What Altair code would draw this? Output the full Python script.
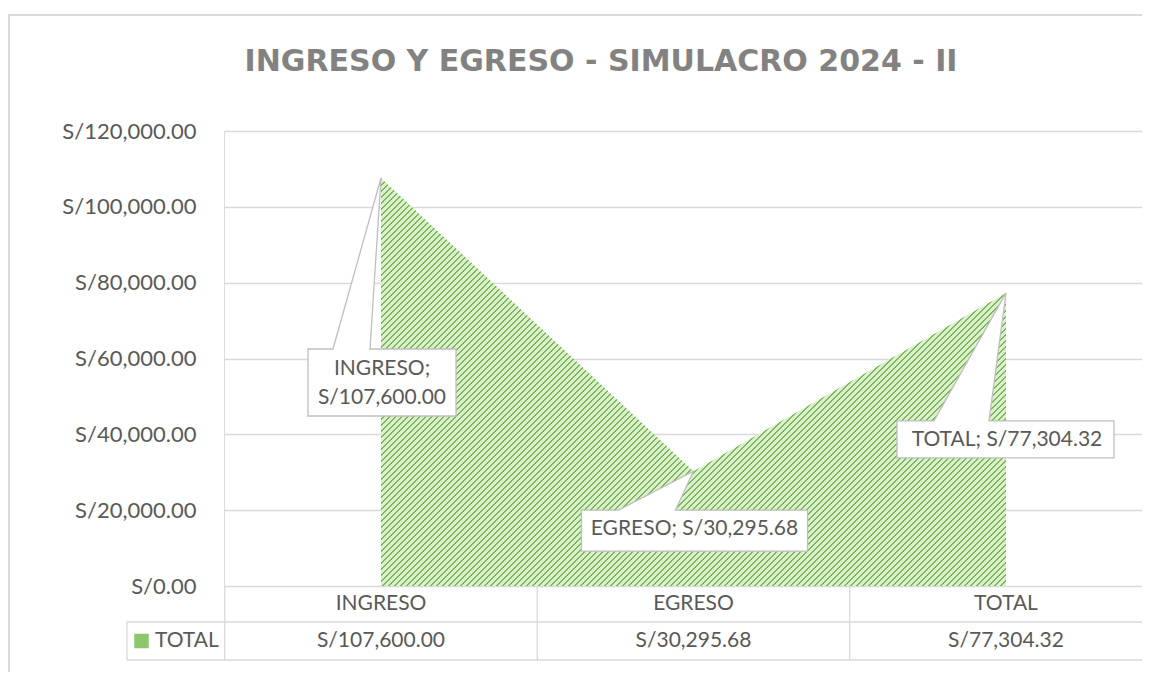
import altair as alt
import pandas as pd

# ---------------- data ----------------
CATEGORIES = ["INGRESO", "EGRESO", "TOTAL"]
VALUES = [107600.00, 30295.68, 77304.32]
SERIES_NAME = "TOTAL"
Y_TICKS = [0, 20000, 40000, 60000, 80000, 100000, 120000]
Y_MAX = 120000
TITLE = "INGRESO Y EGRESO - SIMULACRO 2024 - II"

df = pd.DataFrame({"cat": CATEGORIES, "val": VALUES})
legend_df = pd.DataFrame({"name": [SERIES_NAME]})
title_df = pd.DataFrame({"t": [TITLE]})

# ---------------- layout / style ----------------
W, H = 918, 455
PAD = {"left": 216, "top": 123, "right": 0, "bottom": 86}
STEP = 312.5                      # category width of the data table
FIRST = 157                       # first category centre from plot left
N = len(CATEGORIES)
pt_padding = (W / STEP - (N - 1)) / 2
pt_align = FIRST / (W - STEP * (N - 1))

FONT = "Lato"
TXT = "#595959"
GRID = "#d9d9d9"
FS = 21

# hatch ("wide upward diagonal") emulated by a striped linear gradient
bw = STEP * (N - 1)
bh = H * max(VALUES) / Y_MAX
a = (bw + bh) / (bw + bh * bh / bw)
gx2, gy2 = a, a * bh / bw
period = 6.0 / (bw + bh)          # 6 px horizontal stripe period
dark_frac = 0.34
dark, light = "#7cba59", "#dcefcf"
stops = []
o = 0.0
while o < 1.0:
    p1 = min(o + dark_frac * period, 1.0)
    p2 = min(o + period, 1.0)
    stops += [
        alt.GradientStop(color=dark, offset=o),
        alt.GradientStop(color=dark, offset=p1),
        alt.GradientStop(color=light, offset=p1),
        alt.GradientStop(color=light, offset=p2),
    ]
    o += period
hatch = alt.LinearGradient(gradient="linear", stops=stops, x1=0, y1=0, x2=gx2, y2=gy2)

x_enc = alt.X("cat:N", sort=CATEGORIES, axis=None,
              scale=alt.Scale(type="point", padding=pt_padding, align=pt_align))
y_scale = alt.Scale(domain=[0, Y_MAX], nice=False, zero=True)
y_axis = alt.Axis(values=Y_TICKS, labelExpr="'S/' + format(datum.value, ',.2f')",
                  labelFont=FONT, labelFontSize=22, labelColor=TXT, labelPadding=28,
                  ticks=False, domain=False, grid=True, gridColor=GRID, gridWidth=1.3,
                  title=None)

base = alt.Chart(df)

area = base.mark_area(fill=hatch, line=False, interpolate="linear").encode(
    x=x_enc,
    y=alt.Y("val:Q", scale=y_scale, axis=y_axis),
)

# callouts (shape relative to the data point, in pixels: size=4 -> scale 1)
CALLOUTS = {
    "INGRESO": dict(path="M0,0L-11,171L75,171L75,238L-73,238L-73,171L-48,171Z",
                    dx=1, dy=191, sep=";\n"),
    "EGRESO": dict(path="M0,0L-18,39L114,39L114,80L-112,80L-112,39L-75,39Z",
                   dx=1, dy=58, sep="; "),
    "TOTAL": dict(path="M0,0L-17,128L108,128L108,165L-109,165L-109,128L-72,128Z",
                  dx=1, dy=147, sep="; "),
}
callout_layers = []
for cat, c in CALLOUTS.items():
    sub = base.transform_filter(alt.datum.cat == cat)
    box = sub.mark_point(shape=c["path"], size=4, filled=True, fill="white",
                         stroke="#bfbfbf", strokeWidth=1.3, opacity=1).encode(
        x=alt.X("cat:N", sort=CATEGORIES), y=alt.Y("val:Q"))
    sep = c["sep"].replace("\n", "\\n")
    lbl = sub.transform_calculate(
        lab=f"datum.cat + '{sep}' + 'S/' + format(datum.val, ',.2f')"
    ).mark_text(dx=c["dx"], dy=c["dy"], font=FONT, fontSize=FS, color=TXT,
                align="center", baseline="middle", lineBreak="\n", lineHeight=29).encode(
        x=alt.X("cat:N", sort=CATEGORIES), y=alt.Y("val:Q"), text="lab:N")
    callout_layers += [box, lbl]

# data table below the plot
ROW1_Y, ROW2_Y = 473, 510
LINE1_Y, LINE2_Y = 491, 529
LEFT_X = -97
tbl_cat = base.mark_text(font=FONT, fontSize=FS, color=TXT, baseline="middle").encode(
    x=alt.X("cat:N", sort=CATEGORIES), y=alt.value(ROW1_Y), text="cat:N")
tbl_val = base.transform_calculate(
    lab="'S/' + format(datum.val, ',.2f')"
).mark_text(font=FONT, fontSize=FS, color=TXT, baseline="middle").encode(
    x=alt.X("cat:N", sort=CATEGORIES), y=alt.value(ROW2_Y), text="lab:N")
tbl_vlines = base.mark_rule(color=GRID, strokeWidth=1.3, xOffset=-STEP / 2).encode(
    x=alt.X("cat:N", sort=CATEGORIES), y=alt.value(H), y2=alt.value(LINE2_Y))
tbl_h1 = alt.Chart(legend_df).mark_rule(color=GRID, strokeWidth=1.3).encode(
    x=alt.value(LEFT_X), x2=alt.value(W), y=alt.value(LINE1_Y))
tbl_h2 = alt.Chart(legend_df).mark_rule(color=GRID, strokeWidth=1.3).encode(
    x=alt.value(LEFT_X), x2=alt.value(W), y=alt.value(LINE2_Y))
tbl_left = alt.Chart(legend_df).mark_rule(color=GRID, strokeWidth=1.3).encode(
    x=alt.value(LEFT_X), y=alt.value(LINE1_Y), y2=alt.value(LINE2_Y))
leg_key = alt.Chart(legend_df).mark_point(shape="square", size=210, filled=True,
                                          color="#8ec66c", opacity=1).encode(
    x=alt.value(-82.5), y=alt.value(ROW2_Y))
leg_txt = alt.Chart(legend_df).mark_text(font=FONT, fontSize=FS, color=TXT,
                                         align="left", baseline="middle").encode(
    x=alt.value(-69), y=alt.value(ROW2_Y), text="name:N")

# chart title
title = alt.Chart(title_df).mark_text(font="DejaVu Sans", fontSize=30, fontWeight="bold",
                                      color="#828282", align="center",
                                      baseline="middle").encode(
    x=alt.value(377), y=alt.value(-69), text="t:N")

# chart area border
border = alt.Chart(legend_df).mark_rect(fillOpacity=0, stroke=GRID, strokeWidth=2).encode(
    x=alt.value(-215), x2=alt.value(W + 60), y=alt.value(-116), y2=alt.value(H + 200))

chart = alt.layer(
    border, title, area, tbl_vlines, tbl_h1, tbl_h2, tbl_left, tbl_cat, tbl_val,
    leg_key, leg_txt, *callout_layers
).properties(
    width=W, height=H,
    padding=PAD,
    autosize=alt.AutoSizeParams(type="none"),
).configure_view(stroke=None).configure(background="white")

chart.save("out.html", embed_options={"renderer": "svg", "actions": False})
